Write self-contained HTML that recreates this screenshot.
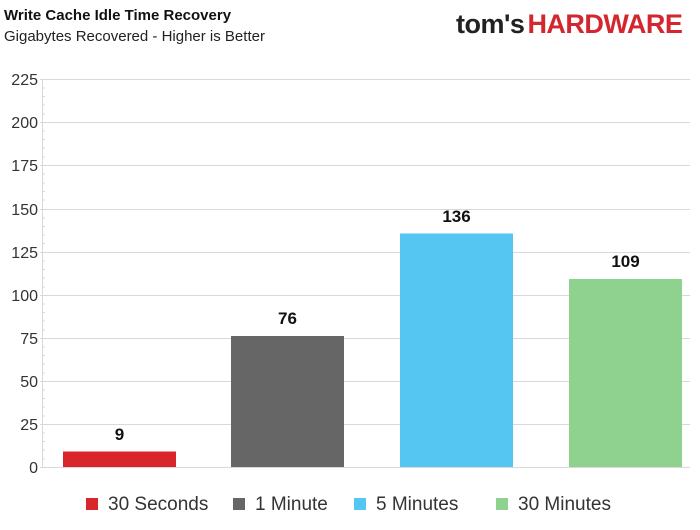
<!DOCTYPE html>
<html><head><style>
body{margin:0;background:#fff;}
svg{display:block;font-family:"Liberation Sans",sans-serif;}
</style></head><body>
<svg width="700" height="530" viewBox="0 0 700 530">
<rect width="700" height="530" fill="#fff"/>
<text x="4" y="20" font-size="15" font-weight="bold" fill="#111">Write Cache Idle Time Recovery</text>
<text x="4" y="41" font-size="15" fill="#222">Gigabytes Recovered - Higher is Better</text>
<text x="456" y="33" font-size="27" font-weight="bold" fill="#222" letter-spacing="-0.5">tom's<tspan fill="#d3262e" dx="3">HARDWARE</tspan></text>
<g stroke="#d9d9d9" stroke-width="1">
<line x1="40" x2="690" y1="79.5" y2="79.5"/><line x1="40" x2="690" y1="122.5" y2="122.5"/>
<line x1="40" x2="690" y1="165.5" y2="165.5"/><line x1="40" x2="690" y1="209.5" y2="209.5"/>
<line x1="40" x2="690" y1="252.5" y2="252.5"/><line x1="40" x2="690" y1="295.5" y2="295.5"/>
<line x1="40" x2="690" y1="338.5" y2="338.5"/><line x1="40" x2="690" y1="381.5" y2="381.5"/>
<line x1="40" x2="690" y1="424.5" y2="424.5"/><line x1="40" x2="690" y1="467.5" y2="467.5"/>
<line x1="42.5" x2="42.5" y1="79" y2="467"/>
</g>
<g stroke="#d9d9d9">
<path d="M42 88h3M42 96.5h3M42 105h3M42 114h3M42 131h3M42 139.5h3M42 148h3M42 157h3M42 174h3M42 183h3M42 191.5h3M42 200h3M42 218h3M42 226.5h3M42 235h3M42 243.5h3M42 261h3M42 269.5h3M42 278h3M42 287h3M42 304h3M42 312.5h3M42 321h3M42 330h3M42 347h3M42 355.5h3M42 364h3M42 373h3M42 390h3M42 398.5h3M42 407h3M42 416h3M42 433h3M42 441.5h3M42 450h3M42 459h3"/>
</g>
<g font-size="16" fill="#333" text-anchor="end">
<text x="38" y="85">225</text><text x="38" y="128">200</text><text x="38" y="171">175</text>
<text x="38" y="215">150</text><text x="38" y="258">125</text><text x="38" y="301">100</text>
<text x="38" y="344">75</text><text x="38" y="387">50</text><text x="38" y="430">25</text><text x="38" y="473">0</text>
</g>
<rect x="63" y="451.5" width="113" height="15.5" fill="#d9262b"/>
<rect x="231" y="336" width="113" height="131" fill="#666"/>
<rect x="400" y="233.5" width="113" height="233.5" fill="#55c6f2"/>
<rect x="569" y="279" width="113" height="188" fill="#8fd18f"/>
<g font-size="17" font-weight="bold" fill="#111" text-anchor="middle">
<text x="119.5" y="440">9</text><text x="287.5" y="324">76</text>
<text x="456.5" y="222">136</text><text x="625.5" y="267">109</text>
</g>
<rect x="86" y="498" width="12" height="12" fill="#d9262b"/>
<rect x="233" y="498" width="12" height="12" fill="#666"/>
<rect x="354" y="498" width="12" height="12" fill="#55c6f2"/>
<rect x="496" y="498" width="12" height="12" fill="#8fd18f"/>
<g font-size="19" fill="#333">
<text x="108" y="510">30 Seconds</text><text x="255" y="510">1 Minute</text>
<text x="376" y="510">5 Minutes</text><text x="518" y="510">30 Minutes</text>
</g>
</svg>
</body></html>
